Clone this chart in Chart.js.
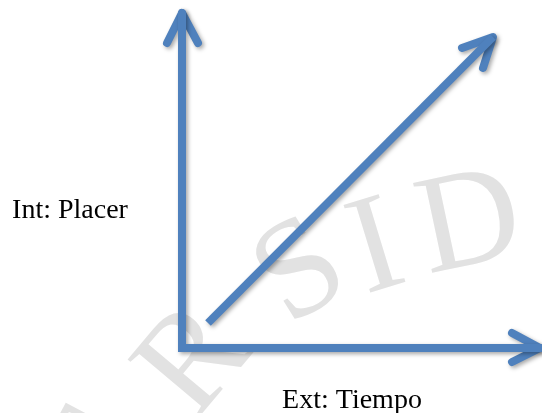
<!DOCTYPE html>
<html lang="es">
<head>
    <meta charset="UTF-8">
    <title>Placer / Tiempo</title>
    <script src="https://cdn.jsdelivr.net/npm/chart.js"></script>
    <style>
        body {
            margin: 0;
            background: #fff;
        }
        .chart-container {
            position: relative;
            width: 542px;
            height: 413px;
        }
    </style>
</head>
<body>
    <div class="chart-container">
        <canvas id="diagram"></canvas>
    </div>
    <script>
        // Shapes, in axis units (origin = corner of the two axes)
        const axesFrame = [[0, 335], [0, 0], [358, 0]];
        const yArrowHead = [[-15, 305], [0, 335], [16, 305]];
        const xArrowHead = [[330, 15], [358, 0], [330, -14]];
        const trendLine = [[26, 25], [311, 311]];
        const trendHead = [[280, 300], [311, 311], [301, 280]];

        // Labels
        const yLabel = 'Int: Placer';
        const xLabel = 'Ext: Tiempo';

        // Faint watermark letters (stamp text along an arc)
        const stampLetters = ['E', 'R', 'S', 'I', 'D', 'A'];

        const blue = '#4f81bd';

        function toPoints(arr) {
            return arr.map(p => ({ x: p[0], y: p[1] }));
        }

        function shape(arr, opts) {
            return Object.assign({
                data: toPoints(arr),
                showLine: true,
                borderColor: blue,
                borderWidth: 8,
                pointRadius: 0,
                tension: 0,
                fill: false,
                clip: false,
                borderCapStyle: 'round',
                borderJoinStyle: 'round'
            }, opts || {});
        }

        // Watermark + labels + soft shadow under the arrows
        const decorPlugin = {
            id: 'decor',
            beforeDatasetsDraw(chart, args, opts) {
                const ctx = chart.ctx;
                const xs = chart.scales.x, ys = chart.scales.y;
                ctx.save();
                ctx.fillStyle = '#e2e2e2';
                ctx.font = '140px "Liberation Serif"';
                ctx.textAlign = 'center';
                ctx.textBaseline = 'middle';
                opts.stamp.forEach((s, i) => {
                    ctx.save();
                    ctx.translate(xs.getPixelForValue(s[0]), ys.getPixelForValue(s[1]));
                    ctx.rotate(s[2] * Math.PI / 180);
                    ctx.fillText(stampLetters[i], 0, 0);
                    ctx.restore();
                });
                ctx.restore();

                ctx.save();
                ctx.shadowColor = 'rgba(0, 0, 0, 0.35)';
                ctx.shadowBlur = 4;
                ctx.shadowOffsetX = 2;
                ctx.shadowOffsetY = 2;
            },
            afterDatasetsDraw(chart, args, opts) {
                const ctx = chart.ctx;
                ctx.restore();
                const xs = chart.scales.x, ys = chart.scales.y;
                ctx.save();
                ctx.fillStyle = '#000';
                ctx.font = '28px "Liberation Serif"';
                ctx.textAlign = 'center';
                ctx.textBaseline = 'alphabetic';
                ctx.fillText(yLabel, xs.getPixelForValue(opts.yLabelAt[0]), ys.getPixelForValue(opts.yLabelAt[1]));
                ctx.fillText(xLabel, xs.getPixelForValue(opts.xLabelAt[0]), ys.getPixelForValue(opts.xLabelAt[1]));
                ctx.restore();
            }
        };

        new Chart(document.getElementById('diagram'), {
            type: 'scatter',
            data: {
                datasets: [
                    shape(axesFrame, { borderCapStyle: 'round', borderJoinStyle: 'miter' }),
                    shape(yArrowHead),
                    shape(xArrowHead),
                    shape(trendLine, { borderCapStyle: 'butt' }),
                    shape(trendHead)
                ]
            },
            plugins: [decorPlugin],
            options: {
                responsive: true,
                maintainAspectRatio: false,
                animation: false,
                events: [],
                layout: { padding: 0 },
                plugins: {
                    legend: { display: false },
                    tooltip: { enabled: false },
                    decor: {
                        stamp: [
                            [-82, -107, -62],
                            [15, -14, -50],
                            [120, 73, -32],
                            [195, 96, -17],
                            [288, 121, -12],
                            [418, 118, -5]
                        ],
                        yLabelAt: [-112, 130],
                        xLabelAt: [170, -60]
                    }
                },
                scales: {
                    x: { type: 'linear', display: false, min: -182, max: 360 },
                    y: { type: 'linear', display: false, min: -65, max: 348 }
                }
            }
        });
    </script>
</body>
</html>
